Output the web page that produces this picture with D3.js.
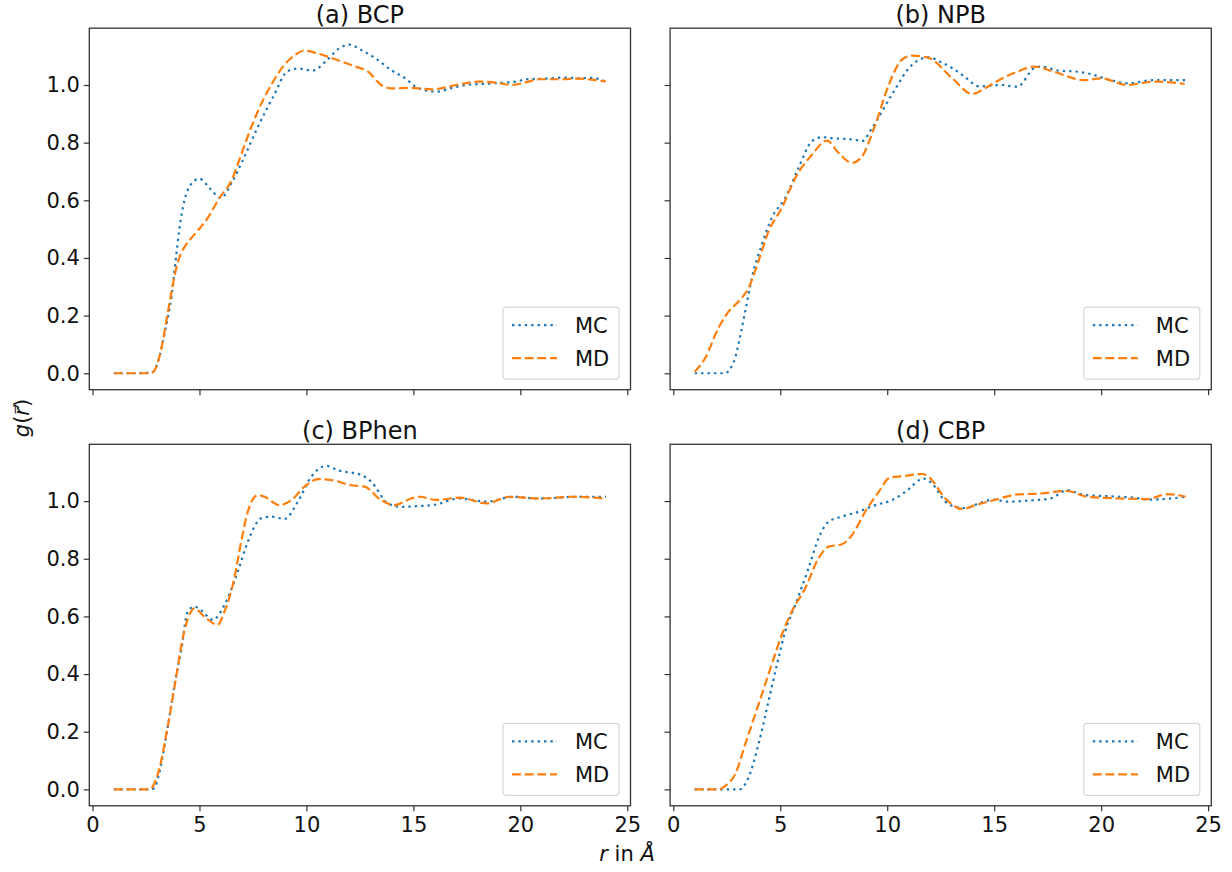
<!DOCTYPE html>
<html>
<head>
<meta charset="utf-8">
<script src="https://cdn.jsdelivr.net/npm/d3@7"></script>
<style>
    body { margin: 0; background: #fff; }
    svg { font-family: "DejaVu Sans", sans-serif; }
</style>
</head>
<body>
<svg id="chart" width="1232" height="872"></svg>
<script>
// pair distribution functions, [r, g]
const bcpMC = [[1,0],[2.0,0],[2.8,0.004],[3.1,0.05],[3.4,0.15],[3.7,0.27],[3.9,0.4],[4.06,0.5],[4.3,0.6],[4.6,0.655],[5.0,0.675],[5.5,0.64],[6.0,0.608],[6.5,0.66],[7.0,0.735],[7.7,0.85],[8.5,0.967],[9.1,1.047],[9.6,1.057],[10.3,1.05],[10.9,1.082],[11.5,1.125],[12.0,1.14],[12.6,1.12],[13.2,1.094],[14.0,1.05],[14.6,1.024],[15.2,0.99],[16.1,0.977],[16.8,0.99],[17.5,1.0],[18.5,1.005],[19.8,1.012],[20.3,1.02],[21.2,1.022],[22.1,1.026],[22.7,1.023],[23.3,1.025],[24.0,1.012]];
const bcpMD = [[1,0],[2.0,0],[2.7,0],[2.9,0.01],[3.2,0.08],[3.45,0.18],[3.67,0.273],[3.9,0.36],[4.1,0.41],[4.37,0.446],[4.76,0.481],[5.39,0.539],[5.93,0.608],[6.48,0.666],[6.95,0.758],[7.3,0.83],[7.73,0.909],[8.35,1.0],[8.97,1.07],[9.4,1.1],[9.9,1.119],[10.5,1.11],[11.16,1.094],[11.7,1.08],[12.25,1.065],[12.87,1.047],[13.5,1.0],[14.0,0.988],[14.8,0.99],[15.9,0.985],[17.0,1.0],[18.1,1.012],[18.9,1.008],[19.6,1.0],[20.3,1.01],[20.9,1.02],[22.0,1.02],[22.7,1.022],[23.4,1.018],[24.0,1.012]];

const npbMC = [[1,0],[2.42,0],[2.7,0.02],[2.89,0.053],[3.1,0.12],[3.36,0.214],[3.67,0.33],[4.14,0.446],[4.6,0.539],[5.23,0.608],[5.85,0.712],[6.48,0.805],[6.95,0.819],[7.5,0.815],[8.04,0.813],[8.5,0.81],[8.82,0.805],[9.29,0.851],[10.22,0.967],[11.16,1.07],[11.94,1.096],[12.5,1.08],[13.03,1.059],[13.6,1.03],[14.3,0.995],[15.3,1.0],[16.08,0.994],[16.86,1.058],[17.17,1.064],[18.0,1.05],[18.9,1.046],[19.5,1.038],[20.3,1.02],[21.2,1.006],[22.5,1.017],[23.95,1.017]];
const npbMD = [[1.0,0.005],[1.49,0.053],[2.11,0.157],[2.58,0.214],[3.05,0.249],[3.51,0.295],[3.98,0.388],[4.45,0.492],[5.07,0.573],[5.7,0.677],[6.48,0.758],[7.18,0.807],[7.73,0.764],[8.35,0.73],[8.82,0.752],[9.44,0.862],[10.07,1.0],[10.69,1.088],[11.16,1.102],[11.94,1.094],[13.03,1.024],[13.97,0.969],[14.7,0.994],[15.3,1.02],[16.08,1.046],[16.86,1.064],[17.8,1.046],[19.2,1.017],[20.0,1.023],[21.2,1.0],[22.5,1.012],[23.9,1.004]];

const bphenMC = [[1,0],[2.7,0],[2.9,0.005],[3.1,0.05],[3.5,0.21],[3.9,0.39],[4.14,0.479],[4.45,0.617],[4.76,0.634],[5.1,0.62],[5.62,0.588],[6.17,0.64],[6.79,0.755],[7.26,0.859],[7.88,0.94],[8.35,0.946],[8.97,0.938],[9.6,0.998],[10.22,1.084],[10.93,1.122],[11.47,1.107],[12.57,1.09],[13.03,1.067],[13.81,0.992],[14.44,0.98],[15.3,0.983],[15.9,0.986],[17.17,1.009],[18.42,0.998],[19.67,1.015],[20.9,1.009],[22.8,1.015],[24,1.015]];
const bphenMD = [[1,0],[2.66,0],[3.05,0.052],[3.51,0.215],[3.9,0.386],[4.22,0.525],[4.53,0.606],[4.76,0.628],[5.23,0.599],[5.85,0.571],[6.17,0.617],[6.63,0.732],[6.95,0.859],[7.26,0.963],[7.73,1.021],[8.04,1.015],[8.74,0.986],[9.29,1.003],[9.91,1.05],[10.54,1.076],[11.16,1.073],[12.1,1.055],[12.72,1.05],[13.5,1.003],[14.12,0.986],[14.9,1.009],[15.3,1.015],[16.07,1.004],[17.17,1.012],[18.42,0.992],[19.5,1.015],[20.9,1.009],[22.5,1.015],[24.0,1.009]];

const cbpMC = [[1,0],[3.1,0],[3.51,0.04],[3.98,0.156],[4.45,0.306],[4.92,0.456],[5.23,0.548],[5.7,0.64],[6.32,0.767],[6.79,0.871],[7.26,0.929],[7.88,0.946],[8.66,0.963],[9.44,0.986],[10.22,1.003],[10.85,1.032],[11.7,1.078],[12.1,1.061],[12.72,0.998],[13.19,0.98],[13.7,0.976],[14.28,0.992],[14.98,1.005],[15.6,0.998],[16.86,1.003],[17.64,1.009],[18.4,1.038],[19.2,1.021],[20.3,1.017],[21.5,1.012],[22.3,1.005],[23.95,1.015]];
const cbpMD = [[1,0],[2.11,0],[2.42,0.012],[2.89,0.052],[3.36,0.156],[3.98,0.294],[4.6,0.433],[5.07,0.536],[5.54,0.617],[6.17,0.698],[6.79,0.802],[7.26,0.842],[7.88,0.85],[8.35,0.882],[8.97,0.963],[9.6,1.032],[10.14,1.082],[10.69,1.086],[11.63,1.094],[11.94,1.084],[12.72,1.009],[13.5,0.972],[14.12,0.986],[14.98,1.003],[16.08,1.023],[17.17,1.026],[18.4,1.035],[19.35,1.015],[20.91,1.009],[22.16,1.007],[23.1,1.024],[23.95,1.015]];

const panelTitles = ["(a) BCP", "(b) NPB", "(c) BPhen", "(d) CBP"];
const seriesNames = ["MC", "MD"];
const xTicks = [0, 5, 10, 15, 20, 25];
const yTicks = [0.0, 0.2, 0.4, 0.6, 0.8, 1.0];

const panelData = [[bcpMC, bcpMD], [npbMC, npbMD], [bphenMC, bphenMD], [cbpMC, cbpMD]];

const colors = ["#1f77b4", "#ff7f0e"];
const dashes = ["2.4,4", "8.9,3.8"];

const svg = d3.select("#chart");

// shared limits (sharex / sharey)
const xDomain = [-0.15, 25.15];
const yDomain = [-0.057, 1.197];

const colLeft = [89.3, 670.1];
const colWidth = 541.2;
const rowTop = [28.2, 444.3];
const rowHeight = 361.5;

function drawPanel(index) {
    const col = index % 2;
    const row = Math.floor(index / 2);
    const left = colLeft[col];
    const top = rowTop[row];

    const x = d3.scaleLinear().domain(xDomain).range([left, left + colWidth]);
    const y = d3.scaleLinear().domain(yDomain).range([top + rowHeight, top]);

    const g = svg.append("g");

    //x axis, labels only on the bottom row
    const xAxis = d3.axisBottom(x).tickValues(xTicks).tickSize(5.5).tickPadding(6)
        .tickFormat(row === 1 ? d3.format("d") : () => "");
    const xg = g.append("g").attr("transform", `translate(0,${top + rowHeight})`).call(xAxis);

    //y axis, labels only on the left column
    const yAxis = d3.axisLeft(y).tickValues(yTicks).tickSize(5.5).tickPadding(4)
        .tickFormat(col === 0 ? d3.format(".1f") : () => "");
    const yg = g.append("g").attr("transform", `translate(${left},0)`).call(yAxis);

    for (const ax of [xg, yg]) {
        ax.select(".domain").remove();
        ax.selectAll(".tick line").attr("stroke", "#333").attr("stroke-width", 1.2);
        ax.selectAll(".tick text").attr("fill", "#111").style("font-size", "21px")
            .style("font-family", "DejaVu Sans, sans-serif");
    }

    const line = d3.line()
        .x(d => x(d[0]))
        .y(d => y(d[1]))
        .curve(d3.curveMonotoneX);

    panelData[index].forEach((series, i) => {
        g.append("path")
            .datum(series)
            .attr("d", line)
            .attr("fill", "none")
            .attr("stroke", colors[i])
            .attr("stroke-width", 2.2)
            .attr("stroke-dasharray", dashes[i]);
    });

    //frame
    g.append("rect")
        .attr("x", left).attr("y", top)
        .attr("width", colWidth).attr("height", rowHeight)
        .attr("fill", "none").attr("stroke", "#333").attr("stroke-width", 1.3);

    g.append("text")
        .attr("x", left + colWidth / 2)
        .attr("y", top - 5.5)
        .attr("text-anchor", "middle")
        .style("font-size", "24px")
        .attr("fill", "#111")
        .text(panelTitles[index]);

    drawLegend(g, left + colWidth - 11.5 - 116, top + rowHeight - 10.5 - 72);
}

function drawLegend(g, lx, ly) {
    const legend = g.append("g").attr("transform", `translate(${lx},${ly})`);
    legend.append("rect")
        .attr("width", 116).attr("height", 72).attr("rx", 3)
        .attr("fill", "#fff").attr("fill-opacity", 0.8)
        .attr("stroke", "#d6d6d6").attr("stroke-width", 1.2);

    seriesNames.forEach((name, i) => {
        const cy = 18 + i * 33;
        legend.append("line")
            .attr("x1", 9).attr("x2", 54)
            .attr("y1", cy).attr("y2", cy)
            .attr("stroke", colors[i])
            .attr("stroke-width", 2.2)
            .attr("stroke-dasharray", dashes[i]);
        legend.append("text")
            .attr("x", 72).attr("y", cy)
            .attr("dy", "0.36em")
            .style("font-size", "21px")
            .attr("fill", "#111")
            .text(name);
    });
}

for (let i = 0; i < 4; i++) {
    drawPanel(i);
}

//shared axis labels
const yLabel = svg.append("text")
    .attr("transform", "translate(29,418) rotate(-90)")
    .attr("text-anchor", "middle")
    .style("font-size", "21px")
    .attr("fill", "#111");
yLabel.append("tspan").style("font-style", "italic").text("g");
yLabel.append("tspan").text("(");
yLabel.append("tspan").style("font-style", "italic").text("r\u20D7");
yLabel.append("tspan").text(")");

const xLabel = svg.append("text")
    .attr("x", 627)
    .attr("y", 861)
    .attr("text-anchor", "middle")
    .style("font-size", "21px")
    .attr("fill", "#111");
xLabel.append("tspan").style("font-style", "italic").text("r");
xLabel.append("tspan").text(" in ");
xLabel.append("tspan").style("font-style", "italic").text("Å");
</script>
</body>
</html>
